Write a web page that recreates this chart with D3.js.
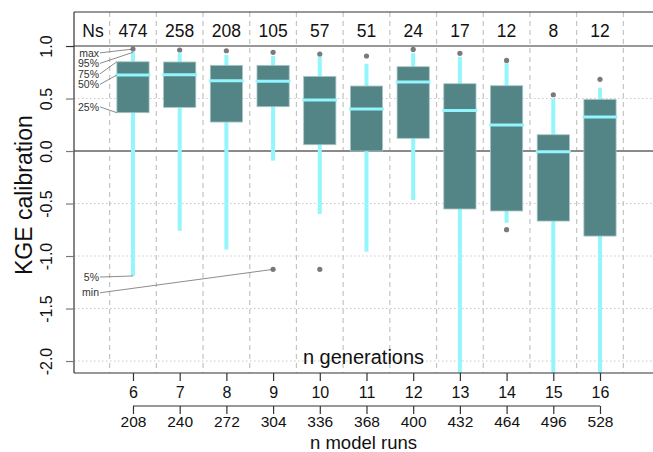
<!DOCTYPE html>
<html>
<head>
<meta charset="utf-8">
<script src="https://cdn.jsdelivr.net/npm/d3@7"></script>
<style>
  body { margin: 0; background: #fff; }
  svg { display: block; font-family: "Liberation Sans", Arial, sans-serif; }
</style>
</head>
<body>
<div id="chart"></div>
<script>
// number of generations and matching number of model runs
const generations = [6, 7, 8, 9, 10, 11, 12, 13, 14, 15, 16];
const modelRuns = [208, 240, 272, 304, 336, 368, 400, 432, 464, 496, 528];
const ns = [474, 258, 208, 105, 57, 51, 24, 17, 12, 8, 12];

// KGE calibration statistics per generation
const maxV = [0.971, 0.962, 0.955, 0.94, 0.924, 0.905, 0.968, 0.93, 0.863, 0.536, 0.683];
const p95 = [0.94, 0.93, 0.914, 0.905, 0.9, 0.83, 0.93, 0.898, 0.835, 0.5, 0.603];
const p75 = [0.85, 0.848, 0.816, 0.816, 0.711, 0.619, 0.803, 0.641, 0.622, 0.155, 0.492];
const p50 = [0.724, 0.727, 0.67, 0.664, 0.486, 0.4, 0.657, 0.387, 0.248, -0.006, 0.324];
const p25 = [0.365, 0.416, 0.276, 0.422, 0.06, 0.0, 0.121, -0.552, -0.571, -0.667, -0.81];
const p05 = [-1.19, -0.759, -0.937, -0.092, -0.6, -0.959, -0.467, -2.3, -0.683, -2.3, -2.3];
const minV = [null, null, null, -1.127, -1.127, null, null, null, -0.749, null, null];

const yTicks = [-2.0, -1.5, -1.0, -0.5, 0.0, 0.5, 1.0];
const gridTicks = [-2.0, -1.5, -1.0, -0.5, 0.5];

// legend annotations for the first box
const annLabels = ["max", "95%", "75%", "50%", "25%", "5%", "min"];
const annLabelY = [0.935, 0.835, 0.735, 0.635, 0.42, -1.2, -1.35];

const data = generations.map((g, i) => ({
  g, runs: modelRuns[i], n: ns[i],
  max: maxV[i], p95: p95[i], p75: p75[i], p50: p50[i],
  p25: p25[i], p05: p05[i], min: minV[i]
}));

const W = 653, H = 452;
const margin = {top: 12, right: 0, bottom: 79, left: 74};

const svg = d3.select("#chart").append("svg")
  .attr("width", W).attr("height", H);

const x = d3.scaleLinear()
  .domain([4.737, 17.135])
  .range([margin.left, W - margin.right]);

const y = d3.scaleLinear()
  .domain([-2.114, 1.324])
  .range([H - margin.bottom, margin.top]);

const boxHalf = 0.345, medHalf = 0.375;
const fill = "#538586", cyan = "#93f6fc";

svg.append("clipPath").attr("id", "clip")
  .append("rect")
  .attr("x", margin.left).attr("y", margin.top)
  .attr("width", W - margin.left).attr("height", y(-2.114) - margin.top);

// horizontal dotted grid
svg.append("g").selectAll("line")
  .data(gridTicks)
  .join("line")
  .attr("x1", margin.left).attr("x2", W)
  .attr("y1", d => y(d)).attr("y2", d => y(d))
  .attr("stroke", "#c8c8c8")
  .attr("stroke-dasharray", "1.5,2.5");

// vertical dashed separators
svg.append("g").selectAll("line")
  .data(generations.map(g => g - 0.5).concat([16.5]))
  .join("line")
  .attr("x1", d => x(d)).attr("x2", d => x(d))
  .attr("y1", margin.top).attr("y2", y(-2.114))
  .attr("stroke", "#c4c4c4")
  .attr("stroke-width", 1.2)
  .attr("stroke-dasharray", "5,4");

// zero line
svg.append("line")
  .attr("x1", margin.left).attr("x2", W)
  .attr("y1", y(0)).attr("y2", y(0))
  .attr("stroke", "#8a8a8a").attr("stroke-width", 2);

const plot = svg.append("g").attr("clip-path", "url(#clip)");

// whiskers
plot.selectAll(".whisker")
  .data(data)
  .join("line")
  .attr("x1", d => x(d.g)).attr("x2", d => x(d.g))
  .attr("y1", d => y(d.p95)).attr("y2", d => y(d.p05))
  .attr("stroke", cyan).attr("stroke-width", 4);

// boxes
plot.selectAll(".box")
  .data(data)
  .join("rect")
  .attr("x", d => x(d.g - boxHalf))
  .attr("width", d => x(d.g + boxHalf) - x(d.g - boxHalf))
  .attr("y", d => y(d.p75))
  .attr("height", d => y(d.p25) - y(d.p75))
  .attr("fill", fill)
  .attr("stroke", "#a8c6c7").attr("stroke-width", 0.8);

// medians
plot.selectAll(".median")
  .data(data)
  .join("line")
  .attr("x1", d => x(d.g - medHalf)).attr("x2", d => x(d.g + medHalf))
  .attr("y1", d => y(d.p50)).attr("y2", d => y(d.p50))
  .attr("stroke", cyan).attr("stroke-width", 3);

// max and min points
const pts = data.flatMap(d => [[d.g, d.max], [d.g, d.min]]).filter(p => p[1] !== null);
plot.selectAll(".pt")
  .data(pts)
  .join("circle")
  .attr("cx", d => x(d[0])).attr("cy", d => y(d[1]))
  .attr("r", 2.6)
  .attr("fill", "#7a7a7a");

// annotation labels for the first box
const d0 = data[0];
const annTargets = [
  [d0.g, d0.max], [d0.g, d0.p95], [d0.g - boxHalf, d0.p75],
  [d0.g - boxHalf, d0.p50], [d0.g - boxHalf, d0.p25], [d0.g, d0.p05],
  [data[3].g, data[3].min]
];
const ann = svg.append("g");
ann.selectAll("line")
  .data(annLabels)
  .join("line")
  .attr("x1", 100).attr("y1", (d, i) => y(annLabelY[i]))
  .attr("x2", (d, i) => x(annTargets[i][0]))
  .attr("y2", (d, i) => y(annTargets[i][1]))
  .attr("stroke", "#6e6e6e").attr("stroke-width", 0.8);
ann.selectAll("text")
  .data(annLabels)
  .join("text")
  .attr("x", 99).attr("y", (d, i) => y(annLabelY[i]))
  .attr("dy", "0.35em")
  .attr("text-anchor", "end")
  .attr("font-size", 10.5)
  .attr("fill", "#333")
  .text(d => d);

// frame: top line, 1.0 line
svg.append("line")
  .attr("x1", margin.left).attr("x2", W)
  .attr("y1", margin.top).attr("y2", margin.top)
  .attr("stroke", "#333").attr("stroke-width", 1.2);
svg.append("line")
  .attr("x1", margin.left).attr("x2", W)
  .attr("y1", y(1)).attr("y2", y(1))
  .attr("stroke", "#333").attr("stroke-width", 1.2);

// y axis
const yAxis = svg.append("g")
  .attr("transform", `translate(${margin.left},0)`)
  .call(d3.axisLeft(y).tickValues(yTicks).tickFormat(d3.format(".1f")).tickSize(8).tickPadding(0));
yAxis.select(".domain").attr("d", `M0,${margin.top}V${y(-2.114)}`).attr("stroke", "#333").attr("stroke-width", 1.2);
yAxis.selectAll(".tick line").attr("stroke", d => d === 1 ? "#333" : "#7a7a7a").attr("stroke-width", 1.2);
yAxis.selectAll(".tick text")
  .attr("transform", "rotate(-90)")
  .attr("x", 0).attr("y", -22)
  .attr("dy", 0)
  .attr("text-anchor", "middle")
  .attr("font-size", 16)
  .attr("fill", "#111")
  .text(d => d3.format(".1f")(d).replace("−", "-"));

// generations axis
const xAxis = svg.append("g")
  .attr("transform", `translate(0,${y(-2.114)})`)
  .call(d3.axisBottom(x).tickValues(generations).tickFormat(d3.format("d")).tickSize(8).tickPadding(6));
xAxis.select(".domain").attr("d", `M${margin.left},0H${W}`).attr("stroke", "#333").attr("stroke-width", 1.2);
xAxis.selectAll(".tick line").attr("stroke", "#333").attr("stroke-width", 1.2);
xAxis.selectAll(".tick text").attr("font-size", 16).attr("fill", "#111");

// model runs axis
const xRuns = d3.scaleLinear()
  .domain([modelRuns[0], modelRuns[modelRuns.length - 1]])
  .range([x(generations[0]), x(generations[generations.length - 1])]);
const runsAxis = svg.append("g")
  .attr("transform", "translate(0,406)")
  .call(d3.axisBottom(xRuns).tickValues(modelRuns).tickFormat(d3.format("d")).tickSize(8).tickPadding(2));
runsAxis.select(".domain").attr("d", `M${xRuns.range()[0]},0H${xRuns.range()[1]}`).attr("stroke", "#333").attr("stroke-width", 1.2);
runsAxis.selectAll(".tick line").attr("stroke", "#333").attr("stroke-width", 1.2);
runsAxis.selectAll(".tick text").attr("font-size", 15.5).attr("fill", "#111");

svg.selectAll(".domain").attr("fill", "none");

// Ns row
const nsRow = svg.append("g");
nsRow.append("text")
  .attr("x", 93).attr("y", 37)
  .attr("text-anchor", "middle")
  .attr("font-size", 17.5).attr("fill", "#111")
  .text("Ns");
nsRow.selectAll(".ns")
  .data(data)
  .join("text")
  .attr("x", d => x(d.g)).attr("y", 37)
  .attr("text-anchor", "middle")
  .attr("font-size", 17.5).attr("fill", "#111")
  .text(d => d.n);

// titles
const midX = (margin.left + W) / 2;
svg.append("text")
  .attr("x", midX).attr("y", 364)
  .attr("text-anchor", "middle")
  .attr("font-size", 20).attr("fill", "#111")
  .text("n generations");
svg.append("text")
  .attr("x", midX).attr("y", 448.5)
  .attr("text-anchor", "middle")
  .attr("font-size", 18.5).attr("fill", "#111")
  .text("n model runs");
svg.append("text")
  .attr("transform", `translate(32,${(y(-1.2) + y(0.36)) / 2}) rotate(-90)`)
  .attr("text-anchor", "middle")
  .attr("font-size", 23).attr("fill", "#111")
  .text("KGE calibration");
</script>
</body>
</html>
